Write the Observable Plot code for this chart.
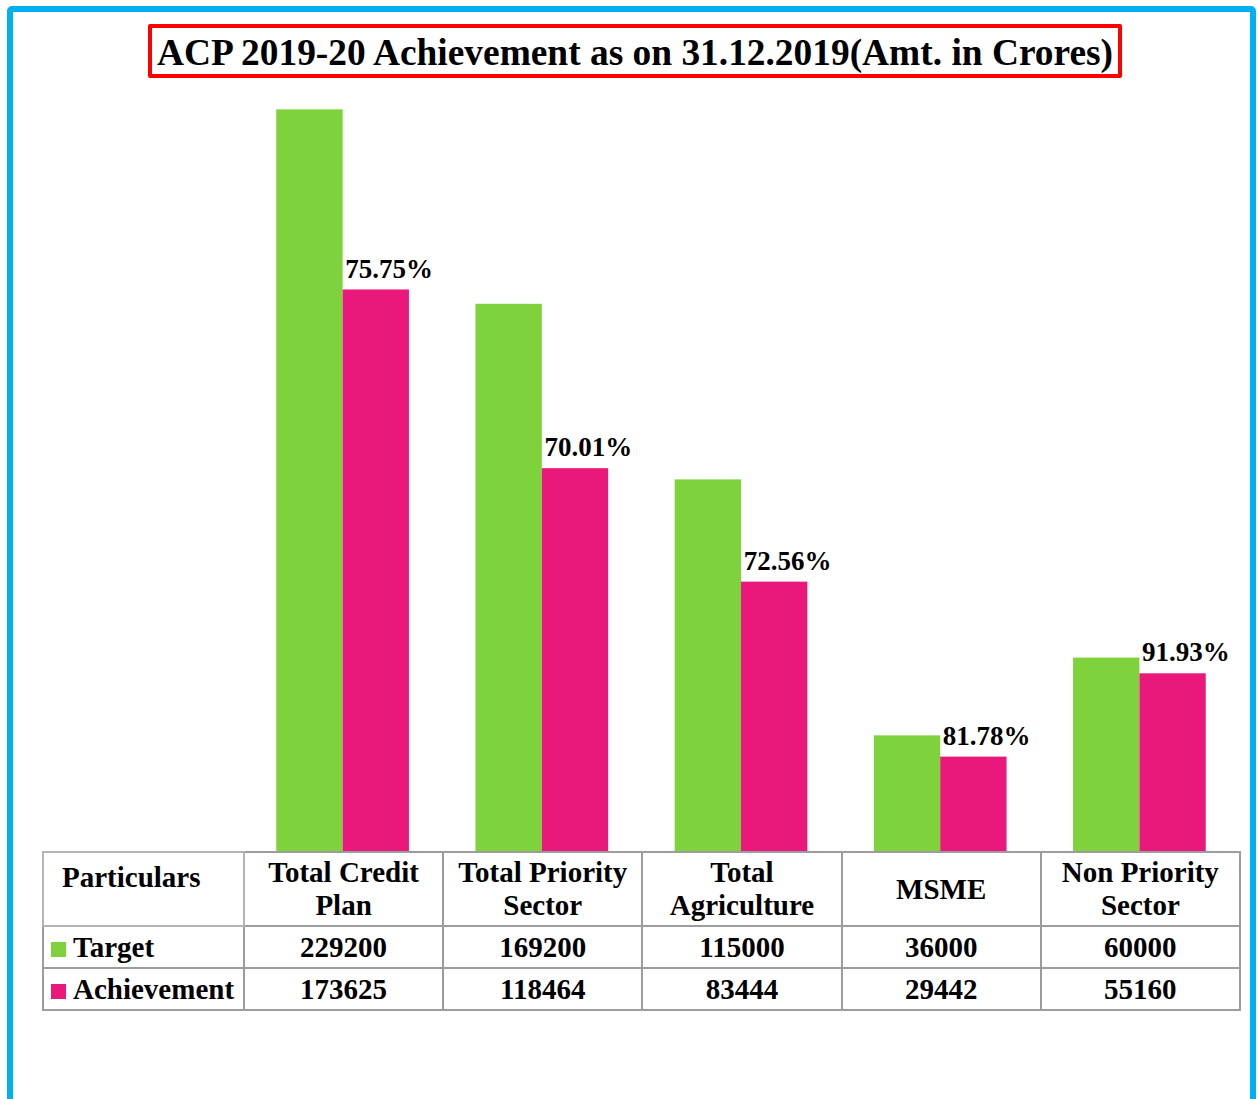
<!DOCTYPE html>
<html>
<head>
<meta charset="utf-8">
<script src="https://cdn.jsdelivr.net/npm/d3@7"></script>
<script src="https://cdn.jsdelivr.net/npm/@observablehq/plot@0.6"></script>
<style>
html, body { margin: 0; padding: 0; background: #fff; overflow: hidden; }
#wrap { position: relative; width: 1258px; height: 1099px; overflow: hidden; font-family: "Liberation Serif", "Times New Roman", serif; color: #000; }
#frame { position: absolute; left: 7px; top: 6px; width: 1237px; height: 1130px; border: 6px solid #00B0F0; border-radius: 5px; box-sizing: content-box; }
#chart { position: absolute; left: 0; top: 0; }
#title { position: absolute; left: 148px; top: 24px; width: 966px; height: 46px; border: 4px solid #FF0000; border-radius: 2px; font-weight: bold; font-size: 37.4px; text-align: center; line-height: 50px; white-space: nowrap; background: #fff; }
#tbl { position: absolute; left: 42px; top: 851px; border-collapse: collapse; table-layout: fixed; width: 1197px; font-weight: bold; font-size: 29px; }
#tbl td { border: 2px solid #9c9c9c; padding: 0; text-align: center; vertical-align: middle; line-height: 33px; white-space: nowrap; overflow: visible; }
#tbl tr.head td { height: 72px; }
#tbl tr.row td { height: 40px; }
#tbl tr.head td.part { text-align: left; vertical-align: top; padding-left: 18px; padding-top: 8px; height: 64px; border-color: #b4b4b4; }
#tbl td.rowlab { text-align: left; padding-left: 7px; }
.sw { display: inline-block; width: 15px; height: 15px; margin-right: 7px; vertical-align: 0px; }
</style>
</head>
<body>
<div id="wrap">
  <div id="frame"></div>
  <div id="chart"></div>
  <div id="title"></div>
  <table id="tbl"></table>
</div>
<script>
const titleText = "ACP 2019-20 Achievement as on 31.12.2019(Amt. in Crores)";
const categories = ["Total Credit Plan", "Total Priority Sector", "Total Agriculture", "MSME", "Non Priority Sector"];
const headerLines = [["Total Credit", "Plan"], ["Total Priority", "Sector"], ["Total", "Agriculture"], ["MSME"], ["Non Priority", "Sector"]];
const series = ["Target", "Achievement"];
const target = [229200, 169200, 115000, 36000, 60000];
const achievement = [173625, 118464, 83444, 29442, 55160];
const pctLabels = ["75.75%", "70.01%", "72.56%", "81.78%", "91.93%"];
const seriesColors = ["#7ED23B", "#EA187A"];

const bars = categories.flatMap((c, i) => [
  {cat: c, s: "Target", v: target[i]},
  {cat: c, s: "Achievement", v: achievement[i]}
]);
const labels = categories.map((c, i) => ({cat: c, s: "Achievement", v: achievement[i], t: pctLabels[i]}));

const chart = Plot.plot({
  width: 1258,
  height: 853,
  marginLeft: 243,
  marginRight: 19,
  marginTop: 42,
  marginBottom: 1,
  style: {background: "transparent", fontFamily: "'Liberation Serif', 'Times New Roman', serif", overflow: "visible"},
  fx: {domain: categories, paddingInner: 0.334, paddingOuter: 0.167, round: false, axis: null, label: null},
  x: {domain: series, padding: 0, round: false, axis: null},
  y: {domain: [0, 250000], axis: null},
  color: {domain: series, range: seriesColors},
  marks: [
    Plot.barY(bars, {fx: "cat", x: "s", y: "v", fill: "s", inset: 0}),
    Plot.text(labels, {fx: "cat", x: "s", y: "v", text: "t", textAnchor: "start", dx: -31, dy: -21,
      fontSize: 27, fontWeight: "bold", fill: "#000"})
  ]
});
document.getElementById("chart").appendChild(chart);
document.getElementById("title").textContent = titleText;

// data table
const tbl = d3.select("#tbl");
const cg = tbl.append("colgroup");
cg.append("col").style("width", "201px");
categories.forEach(() => cg.append("col").style("width", "199.2px"));
const hr = tbl.append("tr").attr("class", "head");
hr.append("td").attr("class", "part").text("Particulars");
headerLines.forEach(lines => {
  const td = hr.append("td");
  lines.forEach((l, j) => { if (j) td.append("br"); td.append("span").text(l); });
});
const rowsVals = [target, achievement];
series.forEach((s, k) => {
  const tr = tbl.append("tr").attr("class", "row");
  const lab = tr.append("td").attr("class", "rowlab");
  lab.append("span").attr("class", "sw").style("background", seriesColors[k]);
  lab.append("span").text(s);
  rowsVals[k].forEach(v => tr.append("td").text(String(v)));
});
</script>
</body>
</html>
